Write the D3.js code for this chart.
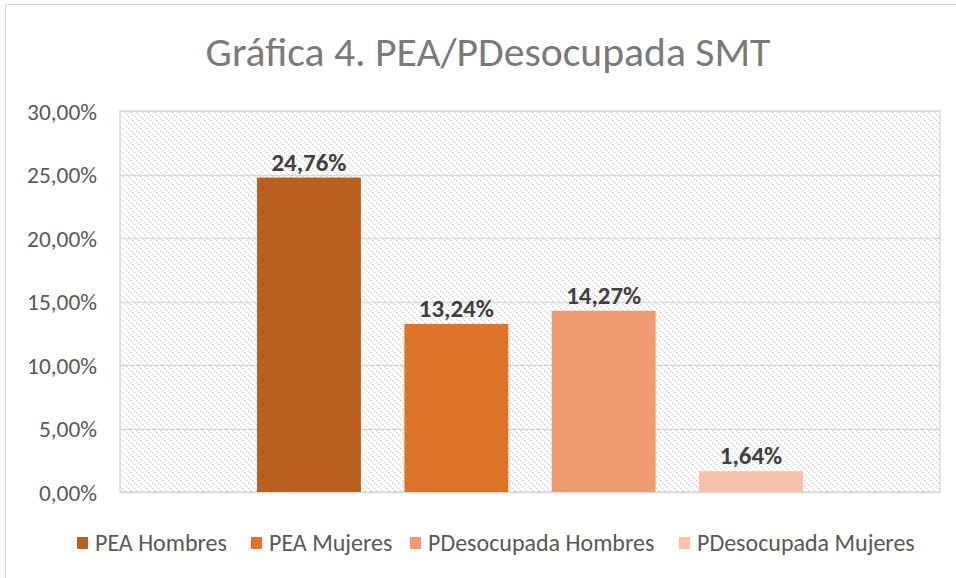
<!DOCTYPE html>
<html><head><meta charset="utf-8">
<script src="https://cdn.jsdelivr.net/npm/d3@7"></script>
<style>body{margin:0;background:#fff}svg{display:block}</style>
</head><body>
<script>
const title = "Gráfica 4. PEA/PDesocupada SMT";
const series = ["PEA Hombres", "PEA Mujeres", "PDesocupada Hombres", "PDesocupada Mujeres"];
const values = [24.76, 13.24, 14.27, 1.64];
const colors = ["#B9601F", "#E0732A", "#F09A72", "#F6C2B0"];
const yTicks = [0, 5, 10, 15, 20, 25, 30];

const W = 956, H = 578;
const font = "Carlito, Calibri, Lato, sans-serif";
const svg = d3.select("body").append("svg").attr("width", W).attr("height", H);

function fitSize(sample, target, weight) {
  const t = svg.append("text").attr("font-family", font).attr("font-size", 20)
    .attr("font-weight", weight || "normal").text(sample);
  const w = t.node().getComputedTextLength();
  t.remove();
  return 20 * target / w;
}

// outer border
svg.append("rect").attr("x", 5.5).attr("y", 4.5).attr("width", W + 10).attr("height", H + 10)
  .attr("fill", "#fff").attr("stroke", "#d9d9d9");

const defs = svg.append("defs");
const pat = defs.append("pattern").attr("id", "hatch").attr("patternUnits", "userSpaceOnUse")
  .attr("width", 6).attr("height", 6);
pat.append("rect").attr("width", 6).attr("height", 6).attr("fill", "#fff");
[0, 2, 4].forEach(k => {
  pat.append("rect").attr("x", k).attr("y", k).attr("width", 1.4).attr("height", 1.4).attr("fill", "#d0d0d0");
});

const m = {l: 120, r: 940, t: 111, b: 492};
const y = d3.scaleLinear().domain([0, 30]).range([m.b, m.t]);
const x = d3.scaleBand().domain(series).range([m.l, m.r]).paddingInner(0.295).paddingOuter(0.93);

svg.append("rect").attr("x", m.l).attr("y", m.t).attr("width", m.r - m.l).attr("height", m.b - m.t)
  .attr("fill", "url(#hatch)").attr("stroke", "#d9d9d9").attr("stroke-width", 1.5);

// grid
svg.append("g").selectAll("line").data(yTicks).join("line")
  .attr("x1", m.l).attr("x2", m.r).attr("y1", d => Math.round(y(d)) + 0.5).attr("y2", d => Math.round(y(d)) + 0.5)
  .attr("stroke", "#d9d9d9").attr("stroke-width", 1.5);

const tickSize = fitSize("30,00%", 70);
const labelSize = fitSize("24,76%", 75, "bold");
const legSize = fitSize("PEA Hombres", 132);

const fmt = v => v.toFixed(2).replace(".", ",") + "%";
const ax = svg.append("g").attr("transform", `translate(97,0)`)
  .call(d3.axisLeft(y).tickValues(yTicks).tickFormat(fmt).tickSize(0).tickPadding(0));
ax.select(".domain").remove();
ax.selectAll("text").attr("font-family", font).attr("font-size", tickSize).attr("fill", "#595959").attr("dy", "0.35em");

// bars
svg.append("g").selectAll("rect").data(series).join("rect")
  .attr("x", d => x(d)).attr("width", x.bandwidth())
  .attr("y", (d, i) => y(values[i])).attr("height", (d, i) => y(0) - y(values[i]))
  .attr("fill", (d, i) => colors[i]);

// labels
svg.append("g").selectAll("text").data(series).join("text")
  .attr("x", d => x(d) + x.bandwidth() / 2).attr("y", (d, i) => y(values[i]) - 7)
  .attr("text-anchor", "middle").attr("font-family", font).attr("font-weight", "bold")
  .attr("font-size", labelSize).attr("fill", "#404040")
  .text((d, i) => fmt(values[i]));

// title
const t = svg.append("text").attr("x", 488).attr("y", 66).attr("text-anchor", "middle")
  .attr("font-family", font).attr("font-weight", 300).attr("font-size", 36).attr("fill", "#7a7a7a").text(title);
const tw = t.node().getComputedTextLength();
t.attr("font-size", 36 * 565 / tw);

// legend
const legX = [77, 251, 410, 679];
const lg = svg.append("g").selectAll("g").data(series).join("g")
  .attr("transform", (d, i) => `translate(${legX[i]},543)`);
lg.append("rect").attr("x", 0).attr("y", -6).attr("width", 11).attr("height", 12).attr("fill", (d, i) => colors[i]);
lg.append("text").attr("x", 18).attr("y", 0).attr("dy", "0.35em").attr("font-family", font)
  .attr("font-size", legSize).attr("fill", "#595959").text(d => d);
</script>
</body></html>
